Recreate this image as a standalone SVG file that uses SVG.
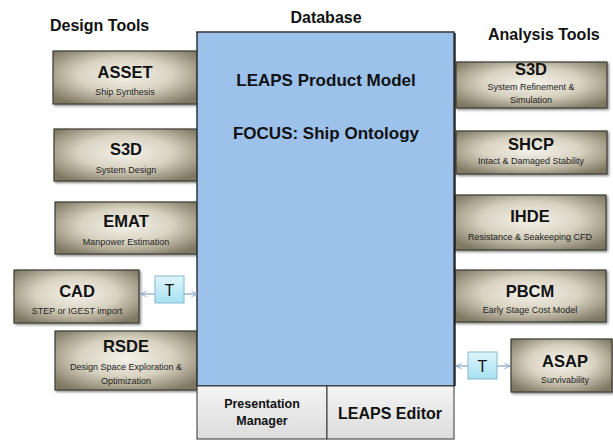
<svg xmlns="http://www.w3.org/2000/svg" width="613" height="440" viewBox="0 0 613 440">
<defs>
<radialGradient id="tool" cx="50%" cy="45%" r="65%">
<stop offset="0" stop-color="#f4f2ea"/>
<stop offset="0.5" stop-color="#d8d2c1"/>
<stop offset="1" stop-color="#7f7862"/>
</radialGradient>
<linearGradient id="tbox" x1="0" y1="0" x2="0" y2="1">
<stop offset="0" stop-color="#dff5fc"/>
<stop offset="1" stop-color="#a6e1f2"/>
</linearGradient>
<linearGradient id="gray" x1="0" y1="0" x2="0" y2="1">
<stop offset="0" stop-color="#f4f4f4"/>
<stop offset="1" stop-color="#dcdcdc"/>
</linearGradient>
<filter id="sh" x="-10%" y="-10%" width="125%" height="130%">
<feDropShadow dx="1.5" dy="1.5" stdDeviation="1" flood-color="#000" flood-opacity="0.45"/>
</filter>
<marker id="ah" viewBox="0 0 10 10" refX="9" refY="5" markerWidth="7" markerHeight="7" orient="auto-start-reverse" markerUnits="userSpaceOnUse">
<path d="M1,1 L9,5 L1,9" fill="none" stroke="#7fa6c8" stroke-width="1.3"/>
</marker>
<style>
.tool{fill:url(#tool);stroke:#3b3b35;stroke-width:1.2;filter:url(#sh)}
.tb{fill:url(#tbox);stroke:#86b9cc;stroke-width:1}
.ttl{font-family:"Liberation Sans",Arial,sans-serif;font-weight:bold;fill:#111;text-anchor:middle}
.big{font-size:16.5px}
.sub{font-family:"Liberation Sans",Arial,sans-serif;font-size:9px;fill:#222;text-anchor:middle}
.head{font-family:"Liberation Sans",Arial,sans-serif;font-weight:bold;font-size:16px;fill:#111}
.conn{stroke:#7fa6c8;stroke-width:1.2;fill:none;marker-start:url(#ah);marker-end:url(#ah)}
</style>
</defs>
<rect width="613" height="440" fill="#ffffff"/>

<text class="head" x="50" y="31">Design Tools</text>
<text class="head" x="326" y="23" text-anchor="middle">Database</text>
<text class="head" x="488" y="40">Analysis Tools</text>

<g id="asset"><rect class="tool" x="53" y="51" width="144" height="53"/>
<text class="ttl big" x="125" y="78">ASSET</text><text class="sub" x="125" y="95">Ship Synthesis</text></g>
<g id="s3d-design"><rect class="tool" x="54" y="129" width="143" height="52"/>
<text class="ttl big" x="126" y="155">S3D</text><text class="sub" x="126" y="173">System Design</text></g>
<g id="emat"><rect class="tool" x="55" y="202" width="142" height="52"/>
<text class="ttl big" x="126" y="227">EMAT</text><text class="sub" x="126" y="245">Manpower Estimation</text></g>
<g id="cad"><rect class="tool" x="14" y="270" width="125" height="53"/>
<text class="ttl big" x="77" y="297">CAD</text><text class="sub" x="77" y="314">STEP or IGEST import</text></g>
<g id="rsde"><rect class="tool" x="55" y="331" width="142" height="59"/>
<text class="ttl big" x="126" y="352">RSDE</text><text class="sub" x="126" y="370">Design Space Exploration &amp;</text><text class="sub" x="126" y="384">Optimization</text></g>

<g id="s3d-analysis"><rect class="tool" x="456" y="62" width="151" height="46"/>
<text class="ttl big" x="531" y="75">S3D</text><text class="sub" x="531" y="90">System Refinement &amp;</text><text class="sub" x="531" y="103">Simulation</text></g>
<g id="shcp"><rect class="tool" x="456" y="131" width="151" height="43"/>
<text class="ttl big" x="531" y="150">SHCP</text><text class="sub" x="531" y="164">Intact &amp; Damaged Stability</text></g>
<g id="ihde"><rect class="tool" x="455" y="195" width="151" height="55"/>
<text class="ttl big" x="530" y="222">IHDE</text><text class="sub" x="530" y="240">Resistance &amp; Seakeeping CFD</text></g>
<g id="pbcm"><rect class="tool" x="455" y="270" width="151" height="52"/>
<text class="ttl big" x="530" y="297">PBCM</text><text class="sub" x="530" y="313">Early Stage Cost Model</text></g>
<g id="asap"><rect class="tool" x="511" y="339" width="101" height="53"/>
<text class="ttl big" x="565" y="367">ASAP</text><text class="sub" x="565" y="383">Survivability</text></g>

<g id="database">
<rect x="197" y="32" width="257" height="354" fill="#9cc2ec" stroke="#333" stroke-width="1.5"/>
<line x1="455" y1="33" x2="455" y2="386" stroke="#222" stroke-width="1.5"/>
<text class="ttl" font-size="17" x="326" y="86">LEAPS Product Model</text>
<text class="ttl" font-size="17" x="326" y="139">FOCUS: Ship Ontology</text>
</g>
<g id="presentation-manager">
<rect x="197" y="386" width="130" height="53" fill="url(#gray)" stroke="#333" stroke-width="1"/>
<text class="ttl" font-size="12.5" x="262" y="408">Presentation</text>
<text class="ttl" font-size="12.5" x="262" y="425">Manager</text>
</g>
<g id="leaps-editor">
<rect x="327" y="386" width="127" height="53" fill="url(#gray)" stroke="#333" stroke-width="1"/>
<text class="ttl" font-size="16" x="390" y="419">LEAPS Editor</text>
</g>

<g id="t-left"><rect class="tb" x="155" y="276" width="29" height="27"/>
<text x="169.5" y="296" font-family="Liberation Sans,Arial,sans-serif" font-size="16" text-anchor="middle" fill="#111">T</text></g>
<g id="t-right"><rect class="tb" x="468" y="352" width="29" height="27"/>
<text x="482.5" y="372" font-family="Liberation Sans,Arial,sans-serif" font-size="16" text-anchor="middle" fill="#111">T</text></g>

<g id="connectors">
<line class="conn" x1="141" y1="294" x2="155" y2="294" style="marker-end:none"/>
<line class="conn" x1="184" y1="294" x2="197" y2="294" style="marker-start:none"/>
<line class="conn" x1="456" y1="366" x2="468" y2="366" style="marker-end:none"/>
<line class="conn" x1="497" y1="366" x2="510" y2="366" style="marker-start:none"/>
</g>
</svg>
